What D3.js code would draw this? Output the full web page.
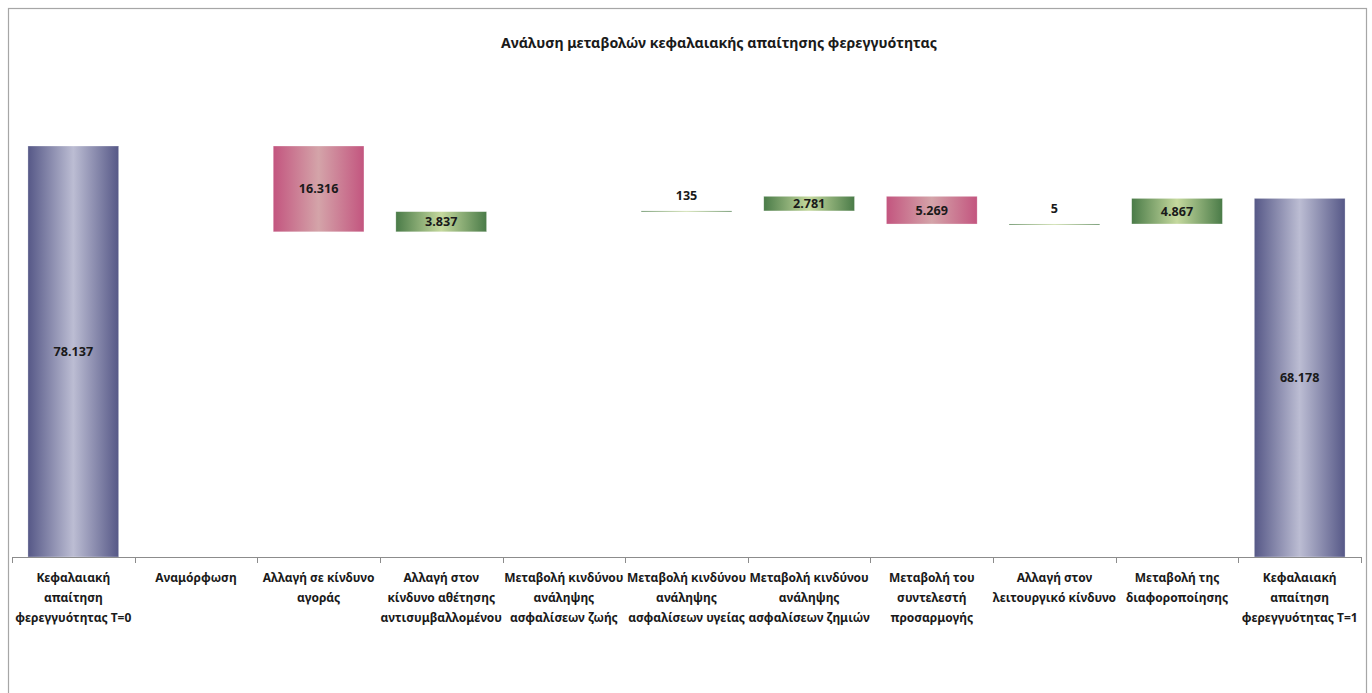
<!DOCTYPE html>
<html>
<head>
<meta charset="utf-8">
<script src="https://cdn.jsdelivr.net/npm/d3@7"></script>
<style>
  html, body { margin: 0; padding: 0; background: #fff; }
  svg text { font-family: "Noto Sans", "Open Sans", sans-serif; fill: #1a1a1a; }
</style>
</head>
<body>
<svg id="chart" width="1372" height="693"></svg>
<script>
// Waterfall: solvency capital requirement from T=0 to T=1
const title = "Ανάλυση μεταβολών κεφαλαιακής απαίτησης φερεγγυότητας";
// category labels, "\n" marks the line breaks of the axis text
const categories = [
  "Κεφαλαιακή\nαπαίτηση\nφερεγγυότητας Τ=0",
  "Αναμόρφωση",
  "Αλλαγή σε κίνδυνο\nαγοράς",
  "Αλλαγή στον\nκίνδυνο αθέτησης\nαντισυμβαλλομένου",
  "Μεταβολή κινδύνου\nανάληψης\nασφαλίσεων ζωής",
  "Μεταβολή κινδύνου\nανάληψης\nασφαλίσεων υγείας",
  "Μεταβολή κινδύνου\nανάληψης\nασφαλίσεων ζημιών",
  "Μεταβολή του\nσυντελεστή\nπροσαρμογής",
  "Αλλαγή στον\nλειτουργικό κίνδυνο",
  "Μεταβολή της\nδιαφοροποίησης",
  "Κεφαλαιακή\nαπαίτηση\nφερεγγυότητας Τ=1"
];
// "total" for the opening/closing bars, otherwise the signed change
const kinds   = ["total", "delta", "delta", "delta", "delta", "delta", "delta", "delta", "delta", "delta", "total"];
const values  = [78137, 0, -16316, 3837, 0, 135, 2781, -5269, 5, 4867, 68178];
const yMax = 90000;

const svg = d3.select("#chart");

// outer chart frame
svg.append("rect")
  .attr("x", 8.5).attr("y", 8.5).attr("width", 1358).attr("height", 700)
  .attr("fill", "none").attr("stroke", "#a6a6a6").attr("stroke-width", 1.2);

svg.append("text")
  .attr("x", 719).attr("y", 48)
  .attr("text-anchor", "middle")
  .style("font-size", "14.2px").style("font-weight", "bold")
  .text(title);

const x = d3.scaleBand()
  .domain(categories)
  .range([12, 1361])
  .paddingInner(0.26)
  .paddingOuter(0.13);

const y = d3.scaleLinear().domain([0, yMax]).range([557, 83.6]);

// gradients: dark edges, light centre
const defs = svg.append("defs");
const palettes = {
  total: ["#565887", "#bcbdd3"],
  up:    ["#4a7b48", "#c5d99e"],
  down:  ["#c3557f", "#d4a4a9"]
};
Object.entries(palettes).forEach(([key, [edge, mid]]) => {
  const g = defs.append("linearGradient").attr("id", "grad-" + key)
    .attr("x1", "0%").attr("x2", "100%").attr("y1", "0%").attr("y2", "0%");
  g.append("stop").attr("offset", "0%").attr("stop-color", edge);
  g.append("stop").attr("offset", "50%").attr("stop-color", mid);
  g.append("stop").attr("offset", "100%").attr("stop-color", edge);
});

// running totals -> bar extents
let running = 0;
const bars = categories.map((c, i) => {
  let lo, hi, kind;
  if (kinds[i] === "total") {
    running = values[i];
    lo = 0; hi = values[i]; kind = "total";
  } else {
    const start = running;
    running += values[i];
    lo = Math.min(start, running); hi = Math.max(start, running);
    kind = values[i] >= 0 ? "up" : "down";
  }
  return { c, v: values[i], lo, hi, kind };
});

const fmt = v => d3.format(",")(Math.abs(v)).replace(/,/g, ".");

const g = svg.append("g");
bars.filter(d => d.v !== 0).forEach(d => {
  const top = y(d.hi), bot = y(d.lo);
  const h = Math.max(bot - top, 1);
  g.append("rect")
    .attr("x", x(d.c)).attr("y", top)
    .attr("width", x.bandwidth()).attr("height", h)
    .attr("fill", `url(#grad-${d.kind})`)
    .attr("stroke", "rgba(255,255,255,0.5)").attr("stroke-width", 0.6);
  const inside = (bot - top) >= 14;
  g.append("text")
    .attr("x", x(d.c) + x.bandwidth() / 2)
    .attr("y", inside ? (top + bot) / 2 : top - 15)
    .attr("dy", "0.35em")
    .attr("text-anchor", "middle")
    .style("font-size", "12.6px").style("font-weight", "bold")
    .text(fmt(d.v));
});

// category axis
const axis = svg.append("g");
axis.append("line")
  .attr("x1", 12).attr("x2", 1361).attr("y1", 557.5).attr("y2", 557.5)
  .attr("stroke", "#8c8c8c").attr("stroke-width", 1);
const step = x.step();
d3.range(categories.length + 1).forEach(i => {
  const tx = Math.round(12 + i * step) + 0.5;
  axis.append("line")
    .attr("x1", tx).attr("x2", tx).attr("y1", 557).attr("y2", 563)
    .attr("stroke", "#8c8c8c");
});

// multi-line category labels
categories.forEach(c => {
  const t = axis.append("text")
    .attr("text-anchor", "middle")
    .style("font-size", "12px").style("font-weight", "bold");
  c.split("\n").forEach((ln, k) => {
    t.append("tspan")
      .attr("x", x(c) + x.bandwidth() / 2)
      .attr("y", 582 + k * 20)
      .text(ln);
  });
});
</script>
</body>
</html>
